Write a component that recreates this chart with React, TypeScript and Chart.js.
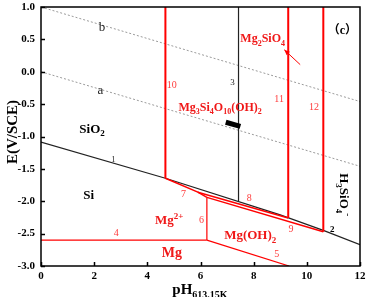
import React, { useEffect, useRef } from "react";
import { Chart, registerables } from "chart.js";
Chart.register(...registerables);

const SERIF = "'Liberation Serif','Times New Roman','Noto Sans CJK SC',serif";
const RED = "#ff0000";
const RED_TXT = "#f01818";
const RED_NUM = "#ff3b3b";

// axis ticks
const xTicks = [0, 2, 4, 6, 8, 10, 12];
const yTicks = [1.0, 0.5, 0.0, -0.5, -1.0, -1.5, -2.0, -2.5, -3.0];

// black boundary lines
const line1X = [0, 4.68, 9.0, 10.62];
const line1Y = [-1.085, -1.645, -2.21, -2.45];
const line2X = [10.62, 12];
const line2Y = [-2.45, -2.67];
const line3X = [7.43, 7.43];
const line3Y = [1.0, -2.0];

// water stability lines (dotted)
const lineAX = [0, 12];
const lineAY = [0.0, -1.46];
const lineBX = [0, 12];
const lineBY = [1.0, -0.46];

// red boundary lines
const line10X = [4.68, 4.68];
const line10Y = [1.0, -1.645];
const line11X = [9.3, 9.3];
const line11Y = [1.0, -2.26];
const line12X = [10.62, 10.62];
const line12Y = [1.0, -2.47];
const line7X = [4.68, 5.9, 6.24];
const line7Y = [-1.645, -1.86, -1.94];
const line8X = [5.9, 9.3];
const line8Y = [-1.86, -2.26];
const line9X = [6.24, 10.62];
const line9Y = [-1.94, -2.47];
const line6X = [6.24, 6.24];
const line6Y = [-1.94, -2.6];
const line4X = [0, 6.24];
const line4Y = [-2.6, -2.6];
const line5X = [6.24, 9.33];
const line5Y = [-2.6, -3.0];

// corrosion potential marker
const markX = [6.95, 7.5];
const markY = [-0.78, -0.845];

// arrow to Mg2SiO4 label
const arrowX = [9.75, 9.15];
const arrowY = [0.11, 0.34];

type Part = [string, "n" | "sub" | "sup"];
type Lbl = { parts: Part[]; x: number; y: number; size: number; bold: boolean; color: string; rot?: number };

const textLabels: Lbl[] = [
  { parts: [["b", "n"]], x: 2.29, y: 0.7, size: 13, bold: false, color: "#222" },
  { parts: [["a", "n"]], x: 2.23, y: -0.27, size: 13, bold: false, color: "#222" },
  { parts: [["SiO", "n"], ["2", "sub"]], x: 1.92, y: -0.87, size: 13, bold: true, color: "#000" },
  { parts: [["1", "n"]], x: 2.73, y: -1.35, size: 9, bold: false, color: "#333" },
  { parts: [["Si", "n"]], x: 1.79, y: -1.9, size: 13, bold: true, color: "#000" },
  { parts: [["4", "n"]], x: 2.83, y: -2.49, size: 10, bold: false, color: RED_NUM },
  { parts: [["Mg", "n"], ["2+", "sup"]], x: 4.82, y: -2.28, size: 13, bold: true, color: RED_TXT },
  { parts: [["Mg", "n"]], x: 4.92, y: -2.78, size: 14, bold: true, color: RED_TXT },
  { parts: [["7", "n"]], x: 5.36, y: -1.88, size: 10, bold: false, color: RED_NUM },
  { parts: [["6", "n"]], x: 6.04, y: -2.28, size: 10, bold: false, color: RED_NUM },
  { parts: [["Mg(OH)", "n"], ["2", "sub"]], x: 7.87, y: -2.52, size: 13, bold: true, color: RED_TXT },
  { parts: [["5", "n"]], x: 8.87, y: -2.81, size: 10, bold: false, color: RED_NUM },
  { parts: [["8", "n"]], x: 7.83, y: -1.95, size: 10, bold: false, color: RED_NUM },
  { parts: [["9", "n"]], x: 9.4, y: -2.43, size: 10, bold: false, color: RED_NUM },
  { parts: [["2", "n"]], x: 10.96, y: -2.42, size: 9, bold: true, color: "#000" },
  { parts: [["10", "n"]], x: 4.92, y: -0.2, size: 10, bold: false, color: RED_NUM },
  { parts: [["3", "n"]], x: 7.2, y: -0.165, size: 9, bold: false, color: "#222" },
  { parts: [["Mg", "n"], ["2", "sub"], ["SiO", "n"], ["4", "sub"]], x: 8.34, y: 0.52, size: 12, bold: true, color: RED_TXT },
  { parts: [["11", "n"]], x: 8.96, y: -0.42, size: 10, bold: false, color: RED_NUM },
  { parts: [["12", "n"]], x: 10.27, y: -0.545, size: 10, bold: false, color: RED_NUM },
  { parts: [["（c）", "n"]], x: 11.34, y: 0.64, size: 12, bold: true, color: "#000" },
  {
    parts: [["Mg", "n"], ["3", "sub"], ["Si", "n"], ["4", "sub"], ["O", "n"], ["10", "sub"], ["(OH)", "n"], ["2", "sub"]],
    x: 6.74, y: -0.54, size: 12, bold: true, color: RED_TXT,
  },
  { parts: [["H", "n"], ["3", "sub"], ["SiO", "n"], ["4", "sub"], ["-", "sup"]], x: 11.4, y: -1.9, size: 13, bold: true, color: "#000", rot: Math.PI / 2 },
];

const pts = (xs: number[], ys: number[]) => xs.map((x, i) => ({ x, y: ys[i] }));

function drawRich(ctx: CanvasRenderingContext2D, parts: Part[], cx: number, cy: number, size: number, bold: boolean, color: string) {
  const w = bold ? "bold " : "";
  const small = Math.round(size * 0.68);
  const fontFor = (k: string) => `${w}${k === "n" ? size : small}px ${SERIF}`;
  let total = 0;
  const widths = parts.map(([t, k]) => {
    ctx.font = fontFor(k);
    const m = ctx.measureText(t).width;
    total += m;
    return m;
  });
  let x = cx - total / 2;
  const base = cy + size * 0.34;
  ctx.fillStyle = color;
  ctx.textAlign = "left";
  ctx.textBaseline = "alphabetic";
  parts.forEach(([t, k], i) => {
    ctx.font = fontFor(k);
    const dy = k === "sub" ? size * 0.28 : k === "sup" ? -size * 0.38 : 0;
    ctx.fillText(t, x, base + dy);
    x += widths[i];
  });
}

const overlay = {
  id: "overlay",
  afterDraw(chart: any) {
    const ctx: CanvasRenderingContext2D = chart.ctx;
    const { left, right, top, bottom } = chart.chartArea;
    const xs = chart.scales.x;
    const ys = chart.scales.y;
    ctx.save();
    // labels
    textLabels.forEach((l) => {
      const px = xs.getPixelForValue(l.x);
      const py = ys.getPixelForValue(l.y);
      if (l.rot) {
        ctx.save();
        ctx.translate(px, py);
        ctx.rotate(l.rot);
        drawRich(ctx, l.parts, 0, 0, l.size, l.bold, l.color);
        ctx.restore();
      } else {
        drawRich(ctx, l.parts, px, py, l.size, l.bold, l.color);
      }
    });
    // arrow head
    const ax0 = xs.getPixelForValue(arrowX[0]);
    const ay0 = ys.getPixelForValue(arrowY[0]);
    const ax1 = xs.getPixelForValue(arrowX[1]);
    const ay1 = ys.getPixelForValue(arrowY[1]);
    const ang = Math.atan2(ay1 - ay0, ax1 - ax0);
    ctx.fillStyle = RED;
    ctx.beginPath();
    ctx.moveTo(ax1, ay1);
    ctx.lineTo(ax1 - 6 * Math.cos(ang - 0.4), ay1 - 6 * Math.sin(ang - 0.4));
    ctx.lineTo(ax1 - 6 * Math.cos(ang + 0.4), ay1 - 6 * Math.sin(ang + 0.4));
    ctx.closePath();
    ctx.fill();
    // frame
    ctx.strokeStyle = "#000";
    ctx.lineWidth = 1.5;
    ctx.strokeRect(left, top, right - left, bottom - top);
    // inner ticks
    ctx.beginPath();
    xTicks.forEach((v) => {
      const p = Math.round(xs.getPixelForValue(v)) + 0.5;
      ctx.moveTo(p, bottom);
      ctx.lineTo(p, bottom - 4);
    });
    yTicks.forEach((v) => {
      const p = Math.round(ys.getPixelForValue(v)) + 0.5;
      ctx.moveTo(left, p);
      ctx.lineTo(left + 4, p);
    });
    ctx.stroke();
    // axis titles
    ctx.save();
    ctx.translate(12, 132);
    ctx.rotate(-Math.PI / 2);
    drawRich(ctx, [["E(V/SCE)", "n"]], 0, 0, 15, true, "#000");
    ctx.restore();
    drawRich(ctx, [["pH", "n"], ["613.15K", "sub"]], 200, 289, 15, true, "#000");
    ctx.restore();
  },
};

export default function App() {
  const ref = useRef<HTMLCanvasElement | null>(null);
  useEffect(() => {
    if (!ref.current) return;
    const ds = (xsA: number[], ysA: number[], color: string, width: number, order: number, extra: any = {}) => ({
      data: pts(xsA, ysA),
      showLine: true,
      borderColor: color,
      backgroundColor: color,
      borderWidth: width,
      pointRadius: 0,
      order,
      ...extra,
    });
    const chart = new Chart(ref.current, {
      type: "scatter",
      data: {
        datasets: [
          ds(lineAX, lineAY, "#9a9a9a", 1, 20, { borderDash: [2, 2] }),
          ds(lineBX, lineBY, "#9a9a9a", 1, 20, { borderDash: [2, 2] }),
          ds(line1X, line1Y, "#222", 1.2, 10),
          ds(line2X, line2Y, "#222", 1.2, 10),
          ds(line3X, line3Y, "#222", 1.2, 10),
          ds(line10X, line10Y, RED, 2, 2),
          ds(line11X, line11Y, RED, 2, 2),
          ds(line12X, line12Y, RED, 2, 2),
          ds(line7X, line7Y, RED, 1.5, 2),
          ds(line8X, line8Y, RED, 1.5, 2),
          ds(line9X, line9Y, RED, 1.5, 2),
          ds(line6X, line6Y, RED, 1.2, 2),
          ds(line4X, line4Y, RED, 1.2, 2),
          ds(line5X, line5Y, RED, 1.2, 2),
          ds(arrowX, arrowY, RED, 1, 2),
          ds(markX, markY, "#000", 5, 1, { borderCapStyle: "butt" }),
        ],
      },
      options: {
        animation: false,
        responsive: false,
        devicePixelRatio: 1,
        layout: { padding: { top: 7, right: 8, left: 0, bottom: 0 } },
        plugins: { legend: { display: false }, tooltip: { enabled: false } },
        scales: {
          x: {
            type: "linear",
            min: 0,
            max: 12,
            afterFit: (s: any) => {
              s.height = 31;
              s.paddingLeft = 0;
              s.paddingRight = 0;
            },
            grid: { display: false, drawTicks: false },
            border: { display: false },
            ticks: {
              stepSize: 2,
              padding: 4,
              color: "#000",
              font: { family: SERIF, size: 11, weight: "bold" },
            },
          },
          y: {
            type: "linear",
            min: -3,
            max: 1,
            afterFit: (s: any) => {
              s.width = 41;
              s.paddingTop = 0;
              s.paddingBottom = 0;
            },
            grid: { display: false, drawTicks: false },
            border: { display: false },
            ticks: {
              stepSize: 0.5,
              padding: 6,
              color: "#000",
              font: { family: SERIF, size: 11, weight: "bold" },
              callback: (v: any) => Number(v).toFixed(1),
            },
          },
        },
      },
      plugins: [overlay],
    } as any);
    return () => chart.destroy();
  }, []);
  return (
    <div style={{ position: "fixed", left: 0, top: 0, width: 368, height: 297, background: "#fff" }}>
      <canvas ref={ref} width={368} height={297} style={{ display: "block" }} />
    </div>
  );
}
